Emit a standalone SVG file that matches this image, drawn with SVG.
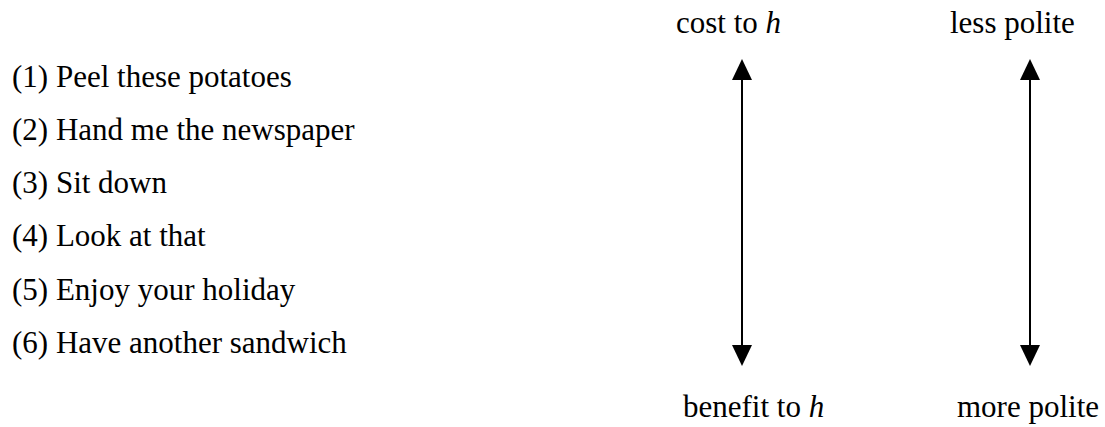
<svg xmlns="http://www.w3.org/2000/svg" width="1105" height="427" viewBox="0 0 1105 427">
<style>
text{font-family:"Liberation Serif","Times New Roman",serif;font-size:31px;fill:#000}
.i{font-style:italic}
.ax{stroke:#000;stroke-width:2;fill:none}
</style>
<rect width="1105" height="427" fill="#fff"/>
<g id="items">
<text x="12" y="87">(1) Peel these potatoes</text>
<text x="12" y="140">(2) Hand me the newspaper</text>
<text x="12" y="193">(3) Sit down</text>
<text x="12" y="246">(4) Look at that</text>
<text x="12" y="300">(5) Enjoy your holiday</text>
<text x="12" y="353">(6) Have another sandwich</text>
</g>
<g id="cost"><text x="676" y="33">cost to <tspan class="i">h</tspan></text></g>
<g id="less"><text x="950" y="33">less polite</text></g>
<g id="benefit"><text x="683" y="417">benefit to <tspan class="i">h</tspan></text></g>
<g id="more"><text x="957" y="417">more polite</text></g>
<g id="connectors">
<line class="ax" x1="742" y1="78" x2="742" y2="347"/>
<polygon points="742,59 732,80 752,80"/>
<polygon points="742,366 732,345 752,345"/>
<line class="ax" x1="1030" y1="78" x2="1030" y2="347"/>
<polygon points="1030,59 1020,80 1040,80"/>
<polygon points="1030,366 1020,345 1040,345"/>
</g>
</svg>
